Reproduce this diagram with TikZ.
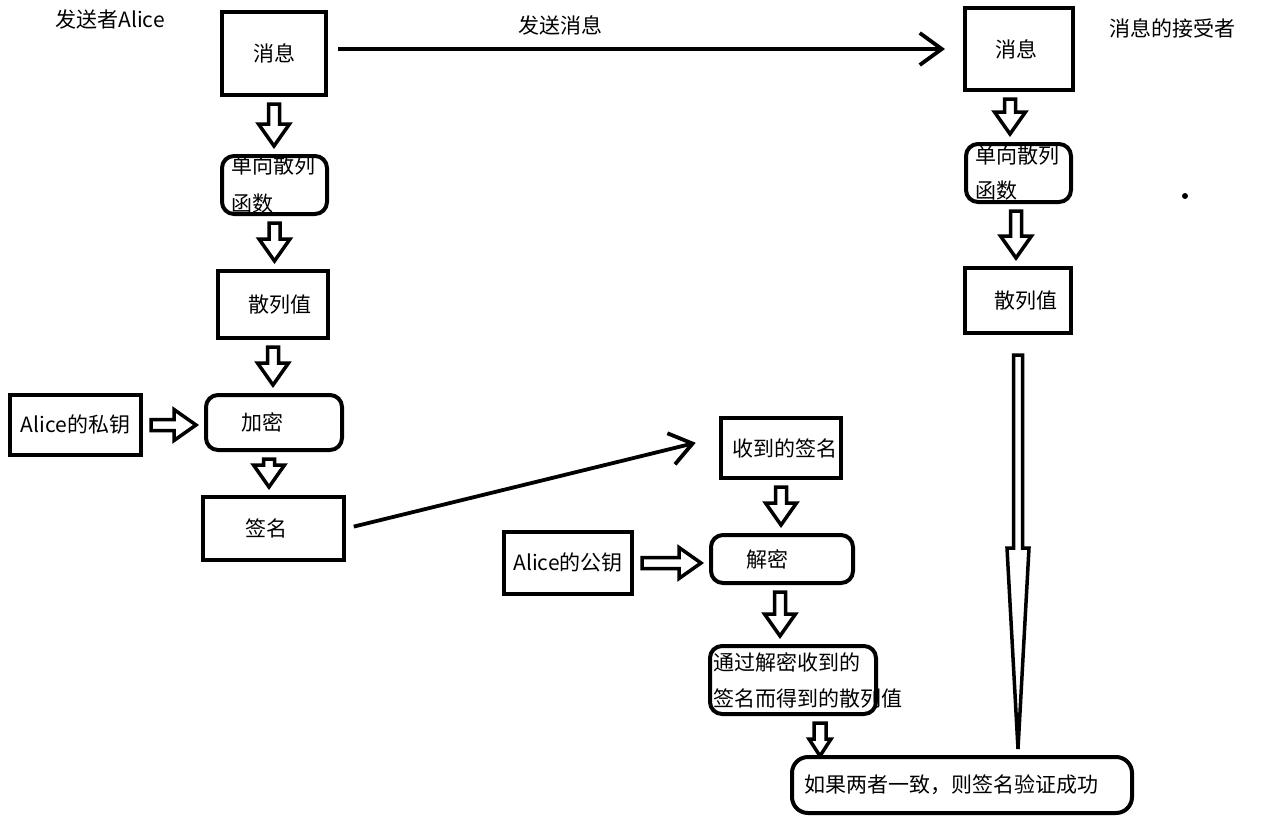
\documentclass[tikz,border=0pt]{standalone}
\usepackage{fontspec}
\setmainfont{Noto Sans CJK SC}
\usepackage{tikz}
\usetikzlibrary{calc,arrows.meta}

\newcommand{\vblock}[3][0pt]{%
  \draw[hollow] let \p1=(#2.south), \p2=(#3.north) in
    (\x1+#1-2.75pt,\y1-3.5pt) -- (\x1+#1+2.75pt,\y1-3.5pt) -- (\x1+#1+2.75pt,\y2+15pt)
    -- (\x1+#1+7.75pt,\y2+15pt) -- (\x1+#1,\y2+4pt) -- (\x1+#1-7.75pt,\y2+15pt)
    -- (\x1+#1-2.75pt,\y2+15pt) -- cycle;}
\newcommand{\hblock}[2]{%
  \draw[hollow] let \p1=(#1.east), \p2=(#2.west) in
    (\x1+4pt,\y1+2.75pt) -- (\x2-15pt,\y1+2.75pt) -- (\x2-15pt,\y1+7.75pt)
    -- (\x2-4pt,\y1) -- (\x2-15pt,\y1-7.75pt) -- (\x2-15pt,\y1-2.75pt)
    -- (\x1+4pt,\y1-2.75pt) -- cycle;}

\begin{document}
\begin{tikzpicture}[x=0.5pt,y=-0.5pt]
\tikzstyle{box} = [rectangle, draw=black, line width=2pt, inner sep=0pt, font=\fontsize{10.5pt}{19pt}\selectfont]
\tikzstyle{roundbox} = [box, rounded corners=6pt]
\tikzstyle{plain} = [inner sep=0pt, font=\fontsize{10.5pt}{13pt}\selectfont]
\tikzstyle{arrow} = [line width=1.9pt, -{Straight Barb[length=11pt,width=16pt]}]
\tikzstyle{hollow} = [draw=black, fill=white, line width=1.75pt]

\useasboundingbox (0,0) rectangle (1265,825);

%nodes
\node (msgA) [box, minimum width=52pt, minimum height=41.5pt] at (274,53.5) {消息};
\node (hashfA) [roundbox, minimum width=52.5pt, minimum height=29pt, text width=43pt, align=left] at (274.5,185) {单向散列\\函数};
\node (hashA) [box, minimum width=55pt, minimum height=33.5pt] at (273,304.5) {\hspace*{7pt}散列值};
\node (privkey) [box, minimum width=65.5pt, minimum height=30pt] at (75.5,425) {Alice的私钥};
\node (encrypt) [roundbox, minimum width=68pt, minimum height=27.5pt] at (274,422.5) {加密\hspace*{12pt}};
\node (sig) [box, minimum width=70.5pt, minimum height=31.5pt] at (273.5,528.5) {签名\hspace*{7.5pt}};
\node (msgB) [box, minimum width=54pt, minimum height=41pt] at (1019,49) {消息\hspace*{3pt}};
\node (hashfB) [roundbox, minimum width=52.5pt, minimum height=29pt, text width=43.5pt, align=left, font=\fontsize{10.5pt}{17.5pt}\selectfont] at (1018.5,173) {单向散列\\函数};
\node (hashB) [box, minimum width=53pt, minimum height=32.5pt] at (1018,300.5) {\hspace*{8pt}散列值};
\node (recvsig) [box, minimum width=60pt, minimum height=30pt] at (781,448) {\hspace*{4pt}收到的签名};
\node (pubkey) [box, minimum width=64pt, minimum height=31pt] at (568,563) {Alice的公钥};
\node (decrypt) [roundbox, minimum width=71pt, minimum height=24pt] at (782,559) {解密\hspace*{15pt}};
\node (hashR) [roundbox, minimum width=83pt, minimum height=34pt, text width=80pt, align=left, font=\fontsize{10.5pt}{18pt}\selectfont] at (793,680) {通过解密收到的\\签名而得到的散列值};
\node (verify) [roundbox, rounded corners=8pt, minimum width=170pt, minimum height=28pt] at (962,785) {如果两者一致，则签名验证成功\hspace*{11pt}};
\node (sender) [plain] at (110,20) {发送者Alice};
\node (sendlbl) [plain] at (560,25) {发送消息};
\node (receiver) [plain] at (1172,28) {消息的接受者};
\fill (1185,196) circle (1.5pt);

%arrows
\draw [arrow, shorten <=5pt, shorten >=9pt] (msgA.east |- msgB.west) -- (msgB.west);
\draw [arrow, shorten <=4pt, shorten >=12pt] (sig.east) -- (recvsig.170);
\vblock{msgA}{hashfA}
\vblock{hashfA}{hashA}
\vblock{hashA}{encrypt}
\vblock[-2.5pt]{encrypt}{sig}
\vblock[-4.5pt]{msgB}{hashfB}
\vblock[-1.25pt]{hashfB}{hashB}
\vblock{recvsig}{decrypt}
\vblock[-1pt]{decrypt}{hashR}
\hblock{privkey}{encrypt}
\hblock{pubkey}{decrypt}
\draw [hollow] let \p1=(hashR.south), \p2=(verify.north) in
  (\x1+10.5pt,\y1-3.5pt) -- (\x1+16.5pt,\y1-3.5pt) -- (\x1+16.5pt,\y2+8pt) -- (\x1+19pt,\y2+8pt)
  -- (\x1+13.5pt,\y2-0.5pt) -- (\x1+8pt,\y2+8pt) -- (\x1+10.5pt,\y2+8pt) -- cycle;
\draw [hollow] let \p1=(hashB.south), \p2=(verify.north) in
  (\x1-2.25pt,\y1-10pt) -- (\x1+2.25pt,\y1-10pt) -- (\x1+2.25pt,\y2+103.5pt) -- (\x1+5.5pt,\y2+103.5pt)
  -- (\x1,\y2+3pt) -- (\x1-5.5pt,\y2+103.5pt) -- (\x1-2.25pt,\y2+103.5pt) -- cycle;
\end{tikzpicture}
\end{document}
